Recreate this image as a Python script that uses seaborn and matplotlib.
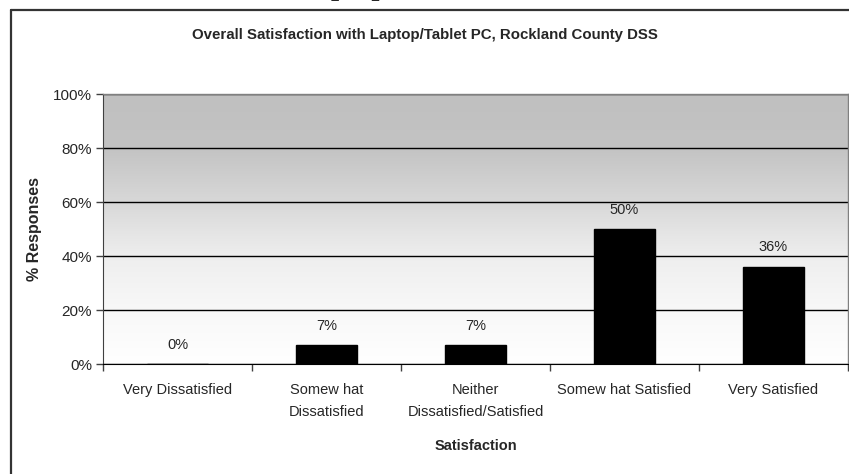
import matplotlib
matplotlib.use("Agg")
import matplotlib.pyplot as plt
from matplotlib.lines import Line2D
from matplotlib.colors import LinearSegmentedColormap
import seaborn as sns
import numpy as np
import pandas as pd

# data
categories = ["Very Dissatisfied", "Somew hat\nDissatisfied", "Neither\nDissatisfied/Satisfied",
              "Somew hat Satisfied", "Very Satisfied"]
percent = [0, 7, 7, 50, 36]
ytick_vals = [0, 20, 40, 60, 80, 100]

df = pd.DataFrame({"cat": categories, "pct": percent})

sns.set_style("white")
plt.rcParams["font.family"] = ["Liberation Sans", "DejaVu Sans"]

fig = plt.figure(figsize=(8.49, 4.74), dpi=100)
ax = fig.add_axes([103 / 849, 1 - 364 / 474, 745 / 849, 270 / 474])

# gray-to-white gradient in the plot area
grad = np.linspace(0, 1, 256).reshape(-1, 1)
cmap = LinearSegmentedColormap.from_list(
    "bg", [(0, "#ffffff"), (0.2, "#f8f8f8"), (0.4, "#eeeeee"),
           (0.6, "#d8d8d8"), (0.8, "#c3c3c3"), (1, "#c0c0c0")])
ax.imshow(grad, extent=[-0.5, 4.5, 0, 100], origin="lower", aspect="auto", cmap=cmap, zorder=0)

sns.barplot(data=df, x="cat", y="pct", color="black", width=0.41, saturation=1,
            edgecolor="black", ax=ax, zorder=3)

ax.set_xlim(-0.5, 4.5)
ax.set_ylim(0, 100)
ax.set_yticks(ytick_vals)
ax.set_yticklabels([f"{v}%" for v in ytick_vals], fontsize=11)
ax.yaxis.grid(True, color="black", linewidth=1)
ax.set_axisbelow(False)
for gl in ax.get_ygridlines():
    gl.set_zorder(2)

ax.tick_params(axis="y", length=5, width=1, color="#404040", pad=3, left=True)
ax.tick_params(axis="x", which="major", length=0, pad=14, labelsize=10.5)
ax.set_xticks(np.arange(-0.5, 5, 1), minor=True)
ax.tick_params(axis="x", which="minor", length=5, width=1, color="#404040", bottom=True)
for t in ax.get_xticklabels():
    t.set_linespacing(1.7)
    t.set_verticalalignment("top")

for s in ["top", "right"]:
    ax.spines[s].set_color("#808080")
    ax.spines[s].set_linewidth(1)
ax.spines["left"].set_color("#404040")
ax.spines["bottom"].set_color("black")
for s in ax.spines.values():
    s.set_zorder(4)

for i, v in enumerate(percent):
    ax.annotate(f"{v}%", (i, v), xytext=(0, 14), textcoords="offset points",
                ha="center", va="center", fontsize=10.5)

ax.set_xlabel("Satisfaction", fontsize=10.5, fontweight="bold", labelpad=14)
ax.set_ylabel("% Responses", fontsize=11.5, fontweight="bold", labelpad=8)

fig.text(0.5, 1 - 35 / 474, "Overall Satisfaction with Laptop/Tablet PC, Rockland County DSS",
         ha="center", va="center", fontsize=10.8, fontweight="bold")

# cut-off heading of the surrounding document
fig.text(298 / 849, 1 + 5 / 474, "Laptop", ha="left", va="baseline", fontsize=21,
         fontweight="bold", family="Liberation Serif")

# outer frame
fig.add_artist(Line2D([11 / 849, 11 / 849], [0, 1 - 10 / 474], color="#333333", lw=1.6))
fig.add_artist(Line2D([11 / 849, 1], [1 - 10 / 474, 1 - 10 / 474], color="#333333", lw=1.6))

fig.savefig("out.png", dpi=100)
